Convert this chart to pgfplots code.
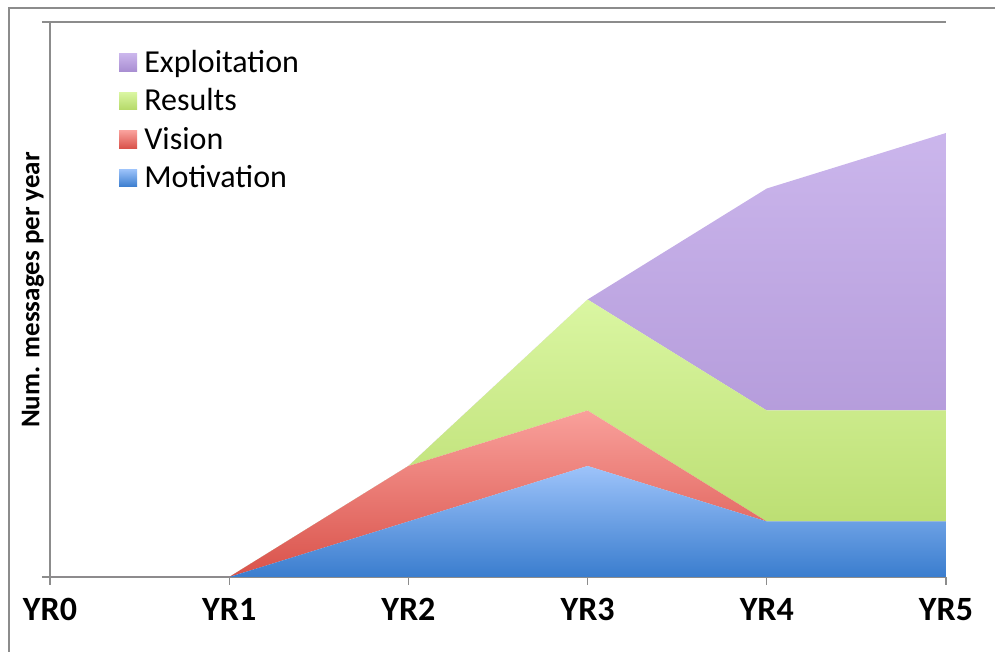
\documentclass[border=0pt]{standalone}
\usepackage{pgfplots}
\pgfplotsset{compat=1.18}
\usepackage{fontspec}
\setmainfont{Carlito}
\definecolor{frame}{HTML}{8C8C8C}
\definecolor{motT}{HTML}{9DC3FA}\definecolor{motB}{HTML}{3A7DCE}
\definecolor{visT}{HTML}{F9A09B}\definecolor{visB}{HTML}{D9524A}
\definecolor{resT}{HTML}{DAF6A2}\definecolor{resB}{HTML}{B5D968}
\definecolor{expT}{HTML}{CBB6EC}\definecolor{expB}{HTML}{A98ED2}
\begin{document}
\begin{tikzpicture}
\path[use as bounding box] (0,0) rectangle (497.5pt,326pt);
\draw[frame, line width=0.6pt] (4.5pt,0) -- (4.5pt,322pt) -- (497.5pt,322pt);
\begin{axis}[
  at={(25pt,37.5pt)}, anchor=south west,
  scale only axis, width=448pt, height=277.5pt,
  xmin=0, xmax=5, ymin=0, ymax=10,
  axis x line*=bottom, axis y line*=left,
  axis line style={frame, line width=0.6pt, -},
  xtick={0,1,2,3,4,5},
  xticklabels={YR0,YR1,YR2,YR3,YR4,YR5},
  ytick={0,10}, yticklabels={},
  ymajorgrids, grid style={frame, line width=0.6pt},
  tick style={frame, line width=0.6pt},
  tick align=outside,
  major tick length=4pt,
  xticklabel style={font=\fontsize{17}{20}\selectfont\bfseries, yshift=-3pt},
  ylabel={Num. messages per year},
  ylabel style={font=\fontsize{13.5}{16}\selectfont\bfseries, at={(axis description cs:-0.019,0.517)}, anchor=center},
  stack plots=y,
  reverse legend,
  legend style={at={(axis description cs:0.07,0.965)}, anchor=north west, draw=none, fill=none,
    font=\fontsize{16}{19}\selectfont, row sep=2.7pt,
    /tikz/every odd column/.append style={column sep=1.6pt}},
  legend cell align=left,
  legend image code/.code={\fill[#1] (0pt,-4.4pt) rectangle (9pt,4.4pt);},
]
\addplot[draw=none, top color=motT, bottom color=motB] coordinates {(0,0) (1,0) (2,1) (3,2) (4,1) (5,1)} \closedcycle;
\addlegendentry{Motivation}
\addplot[draw=none, top color=visT, bottom color=visB] coordinates {(0,0) (1,0) (2,1) (3,1) (4,0) (5,0)} \closedcycle;
\addlegendentry{Vision}
\addplot[draw=none, top color=resT, bottom color=resB] coordinates {(0,0) (1,0) (2,0) (3,2) (4,2) (5,2)} \closedcycle;
\addlegendentry{Results}
\addplot[draw=none, top color=expT, bottom color=expB] coordinates {(0,0) (1,0) (2,0) (3,0) (4,4) (5,5)} \closedcycle;
\addlegendentry{Exploitation}
\end{axis}
\end{tikzpicture}
\end{document}
